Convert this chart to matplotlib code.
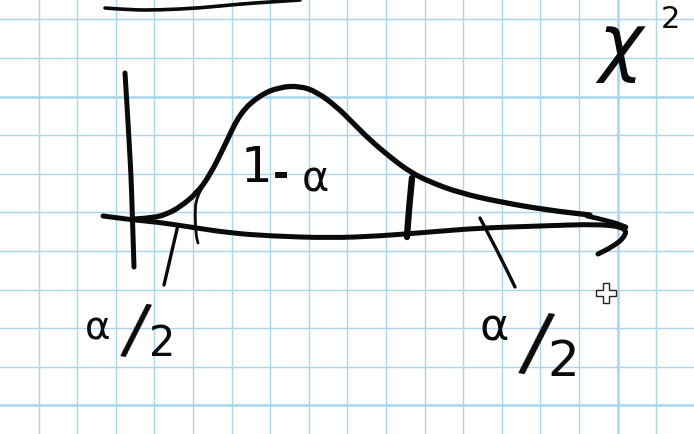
import numpy as np
import matplotlib.pyplot as plt
from matplotlib.path import Path
from matplotlib.patches import PathPatch

# picture size in pixels, drawing uses pixel coordinates (y down)
W, H = 694, 434

# hand-drawn strokes (x, y in pixels)
top_line_x = [105, 130, 160, 200, 240, 270, 300]
top_line_y = [8, 10, 10, 8, 4, 2, 0]

y_axis_x = [125, 127, 129, 131, 132, 133, 134]
y_axis_y = [73, 105, 140, 175, 205, 235, 267]

x_axis_x = [103, 133, 157, 190, 230, 270, 330, 380, 430, 480, 540, 600, 627, 624, 612, 598]
x_axis_y = [216, 220, 222, 227, 233, 236, 238, 236, 232, 228, 226, 224, 228, 238, 247, 254]

curve_x = [135, 153, 167, 180, 197, 210, 225, 240, 260, 280, 300, 317, 337, 353,
           370, 390, 410, 430, 460, 500, 547, 590]
curve_y = [219, 218, 214, 207, 193, 175, 145, 113, 95, 87, 86, 92, 107, 123,
           140, 157, 172, 182, 193, 202, 210, 215]

arrow_x = [587, 610, 626]
arrow_y = [216, 221, 227]

tick_left_x = [178, 171, 164]
tick_left_y = [225, 255, 285]

tick_mid_x = [203, 196, 195, 196, 198]
tick_mid_y = [186, 198, 215, 235, 243]

tick_right_x = [412, 409, 407]
tick_right_y = [178, 208, 237]

tick_tail_x = [480, 498, 515]
tick_tail_y = [218, 252, 287]

cursor_xy = (606, 293)

GRID = '#a9d6e8'
INK = '#0a0a0a'


def pen_stroke(ax, xs, ys, lw):
    """Stroke through the points, rounded with quadratic segments."""
    pts = list(zip(xs, ys))
    verts = [pts[0]]
    codes = [Path.MOVETO]
    for i in range(1, len(pts) - 1):
        mid = ((pts[i][0] + pts[i + 1][0]) / 2, (pts[i][1] + pts[i + 1][1]) / 2)
        verts += [pts[i], mid]
        codes += [Path.CURVE3, Path.CURVE3]
    verts.append(pts[-1])
    codes.append(Path.LINETO)
    patch = PathPatch(Path(verts, codes), fill=False, edgecolor=INK, lw=lw,
                      capstyle='round', joinstyle='round', zorder=3)
    ax.add_patch(patch)


fig = plt.figure(figsize=(W / 100, H / 100), dpi=100)
ax = fig.add_axes([0, 0, 1, 1])
ax.set_xlim(0, W)
ax.set_ylim(H, 0)
ax.axis('off')
fig.patch.set_facecolor('white')

# graph paper
step = 38.6
for gx in np.arange(step, W, step):
    lw = 1.8 if abs(gx - 617) < 3 else 1.0
    ax.axvline(gx, color=GRID, lw=lw, zorder=0)
for gy in np.arange(19.3, H, step):
    lw = 1.8 if abs(gy - 97) < 3 or abs(gy - 406) < 3 else 1.0
    ax.axhline(gy, color=GRID, lw=lw, zorder=0)

pen_stroke(ax, top_line_x, top_line_y, 2.6)
pen_stroke(ax, y_axis_x, y_axis_y, 3.6)
pen_stroke(ax, x_axis_x, x_axis_y, 3.6)
pen_stroke(ax, curve_x, curve_y, 3.8)
pen_stroke(ax, arrow_x, arrow_y, 3.4)
pen_stroke(ax, tick_left_x, tick_left_y, 2.4)
pen_stroke(ax, tick_mid_x, tick_mid_y, 2.0)
pen_stroke(ax, tick_right_x, tick_right_y, 4.6)
pen_stroke(ax, tick_tail_x, tick_tail_y, 2.4)

# handwritten labels
txt = dict(color=INK, ha='center', va='center', family='DejaVu Sans', zorder=4)
ax.text(256, 168, '1', fontsize=36, **txt)
ax.text(281, 176, '-', fontsize=28, fontweight='bold', **txt)
ax.text(315, 180, 'α', fontsize=30, **txt)

ax.text(98, 328, 'α', fontsize=28, **txt)
ax.text(135, 333, '/', fontsize=48, rotation=-10, **txt)
ax.text(162, 344, '2', fontsize=30, **txt)

ax.text(494, 328, 'α', fontsize=32, **txt)
ax.text(536, 347, '/', fontsize=56, rotation=-10, **txt)
ax.text(563, 362, '2', fontsize=36, **txt)

ax.text(621, 47, 'χ', fontsize=54, fontstyle='italic', **txt)
ax.text(670, 20, '2', fontsize=22, **txt)

# mouse cursor left on the screenshot
ax.plot(*cursor_xy, marker='P', markersize=14, markerfacecolor='white',
        markeredgecolor='#222222', markeredgewidth=1.0, zorder=5)

fig.savefig('out.png', dpi=100)
